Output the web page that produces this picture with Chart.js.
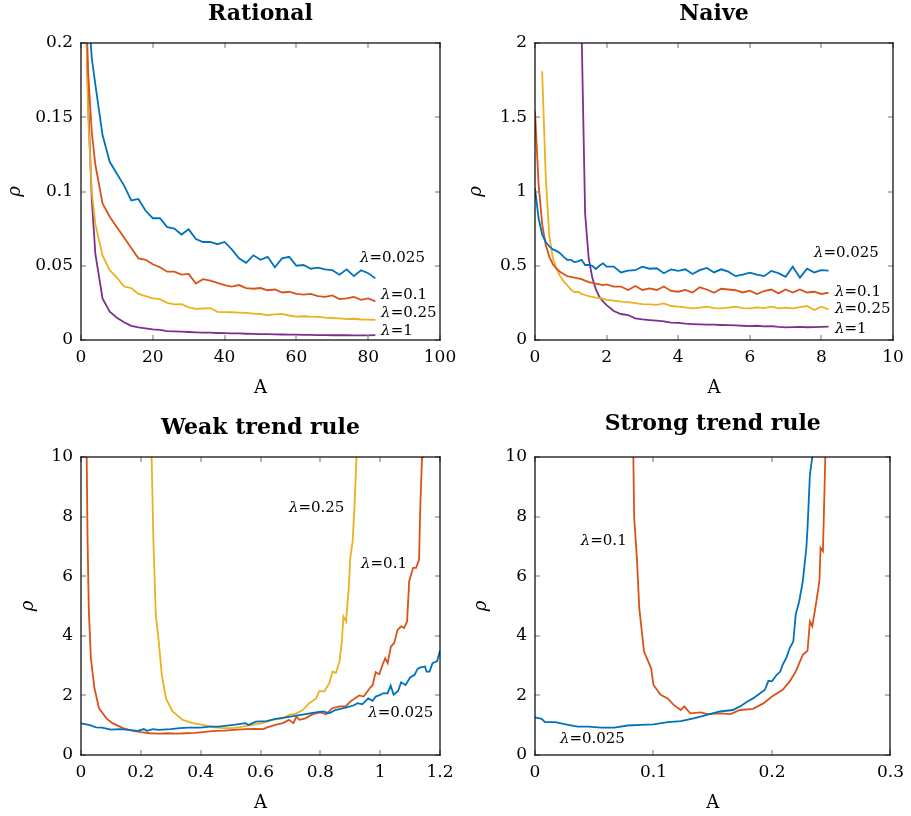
<!DOCTYPE html>
<html>
<head>
<meta charset="utf-8">
<script src="https://cdn.jsdelivr.net/npm/chart.js"></script>
<style>
  body { margin: 0; background: #fff; }
  #wrap { position: relative; width: 911px; height: 816px; }
  canvas { position: absolute; }
</style>
</head>
<body>
<div id="wrap">
  <canvas id="c1" width="470" height="400" style="left:0;top:0"></canvas>
  <canvas id="c2" width="456" height="400" style="left:455px;top:0"></canvas>
  <canvas id="c3" width="470" height="416" style="left:0;top:400px"></canvas>
  <canvas id="c4" width="456" height="416" style="left:455px;top:400px"></canvas>
</div>
<script>
// ---- Rational ----
const rationalA = [1, 1.5, 2, 3, 4, 6, 8, 10, 12, 14, 16, 18, 20, 22, 24, 26, 28, 30, 32, 34, 36, 38, 40,
  42, 44, 46, 48, 50, 52, 54, 56, 58, 60, 62, 64, 66, 68, 70, 72, 74, 76, 78, 80, 82];
const rational025 = [0.40, 0.30, 0.225, 0.19, 0.172, 0.138, 0.120, 0.112, 0.104, 0.094, 0.095, 0.087, 0.082,
  0.082, 0.076, 0.075, 0.071, 0.0745, 0.068, 0.066, 0.066, 0.0645, 0.066, 0.061, 0.055, 0.052, 0.057, 0.054,
  0.056, 0.049, 0.055, 0.056, 0.050, 0.0505, 0.048, 0.0487, 0.0476, 0.047, 0.044, 0.0476, 0.043, 0.047, 0.045, 0.0415];
const rational01 = [0.30, 0.22, 0.18, 0.14, 0.118, 0.092, 0.083, 0.076, 0.069, 0.062, 0.055, 0.054, 0.051,
  0.049, 0.046, 0.046, 0.044, 0.0445, 0.038, 0.041, 0.040, 0.0385, 0.037, 0.036, 0.037, 0.035, 0.0345, 0.035,
  0.0335, 0.034, 0.032, 0.0325, 0.031, 0.0305, 0.031, 0.0295, 0.029, 0.030, 0.0275, 0.028, 0.029, 0.027, 0.028, 0.026];
const rational025b = [0.26, 0.21, 0.15, 0.10, 0.078, 0.057, 0.047, 0.042, 0.036, 0.035, 0.031, 0.0295, 0.028,
  0.0275, 0.025, 0.024, 0.0242, 0.022, 0.021, 0.0212, 0.0215, 0.019, 0.0188, 0.0187, 0.0185, 0.0182, 0.0178,
  0.0175, 0.0168, 0.0172, 0.0176, 0.0165, 0.0158, 0.016, 0.0157, 0.0156, 0.015, 0.0148, 0.0145, 0.014, 0.0143,
  0.0138, 0.0137, 0.0135];
const rational1 = [0.5, 0.21, 0.16, 0.095, 0.058, 0.028, 0.019, 0.015, 0.012, 0.0095, 0.0085, 0.0078, 0.0072,
  0.0068, 0.006, 0.0058, 0.0056, 0.0054, 0.0052, 0.005, 0.0049, 0.0047, 0.0046, 0.0045, 0.0044, 0.0042, 0.0041,
  0.004, 0.0039, 0.0038, 0.0037, 0.0036, 0.0036, 0.0035, 0.0034, 0.0033, 0.0033, 0.0032, 0.0033, 0.0032, 0.0031,
  0.0031, 0.0031, 0.0033];

// ---- Naive ----
const naiveA = [0, 0.1, 0.2, 0.3, 0.4, 0.5, 0.6, 0.7, 0.8, 0.9, 1.0, 1.1, 1.2, 1.3, 1.4, 1.5, 1.6, 1.7, 1.8, 1.9,
  2.0, 2.2, 2.4, 2.6, 2.8, 3.0, 3.2, 3.4, 3.6, 3.8, 4.0, 4.2, 4.4, 4.6, 4.8, 5.0, 5.2, 5.4, 5.6, 5.8, 6.0,
  6.2, 6.4, 6.6, 6.8, 7.0, 7.2, 7.4, 7.6, 7.8, 8.0, 8.2];
const naive025 = [1.02, 0.82, 0.71, 0.66, 0.63, 0.61, 0.60, 0.585, 0.56, 0.54, 0.54, 0.525, 0.53, 0.54, 0.505,
  0.505, 0.50, 0.478, 0.50, 0.516, 0.494, 0.494, 0.455, 0.467, 0.47, 0.494, 0.48, 0.483, 0.45, 0.475, 0.465,
  0.476, 0.444, 0.47, 0.485, 0.455, 0.476, 0.46, 0.43, 0.44, 0.453, 0.44, 0.43, 0.465, 0.45, 0.425, 0.494,
  0.42, 0.48, 0.455, 0.47, 0.467];
const naive01 = [1.54, 1.05, 0.78, 0.64, 0.56, 0.51, 0.48, 0.46, 0.445, 0.43, 0.425, 0.42, 0.415, 0.41, 0.40,
  0.39, 0.385, 0.38, 0.375, 0.37, 0.375, 0.36, 0.36, 0.337, 0.364, 0.337, 0.348, 0.337, 0.36, 0.33, 0.325,
  0.337, 0.32, 0.355, 0.34, 0.318, 0.345, 0.34, 0.335, 0.32, 0.332, 0.31, 0.33, 0.34, 0.314, 0.34, 0.32,
  0.34, 0.32, 0.325, 0.31, 0.319];
const naive025b = [null, null, 1.81, 1.1, 0.70, 0.55, 0.48, 0.43, 0.395, 0.37, 0.34, 0.322, 0.325, 0.31, 0.303,
  0.295, 0.29, 0.285, 0.282, 0.278, 0.27, 0.265, 0.258, 0.255, 0.248, 0.242, 0.24, 0.236, 0.247, 0.229, 0.225,
  0.22, 0.213, 0.218, 0.224, 0.215, 0.213, 0.218, 0.224, 0.215, 0.213, 0.22, 0.215, 0.224, 0.213, 0.218,
  0.213, 0.222, 0.229, 0.202, 0.224, 0.206];
const naive1 = [null, null, null, null, null, null, null, null, null, null, null, null, null, 2.1, 0.85, 0.55,
  0.42, 0.34, 0.29, 0.26, 0.235, 0.195, 0.175, 0.168, 0.146, 0.139, 0.134, 0.13, 0.125, 0.117, 0.115, 0.11,
  0.107, 0.105, 0.104, 0.103, 0.101, 0.1, 0.098, 0.096, 0.094, 0.096, 0.092, 0.093, 0.088, 0.085, 0.087,
  0.088, 0.086, 0.087, 0.089, 0.09];

// ---- Weak trend rule ----
const weakA025 = [0, 0.03, 0.05, 0.07, 0.1, 0.13, 0.16, 0.19, 0.21, 0.22, 0.24, 0.26, 0.3, 0.33, 0.36, 0.4,
  0.43, 0.46, 0.51, 0.55, 0.56, 0.585, 0.62, 0.65, 0.685, 0.72, 0.75, 0.785, 0.81, 0.83, 0.85, 0.885, 0.91,
  0.925, 0.94, 0.96, 0.975, 0.985, 1.0, 1.01, 1.025, 1.035, 1.045, 1.06, 1.07, 1.085, 1.1, 1.115, 1.125,
  1.135, 1.15, 1.155, 1.165, 1.175, 1.19, 1.2];
const weak025 = [1.06, 1.0, 0.93, 0.92, 0.85, 0.87, 0.84, 0.81, 0.87, 0.81, 0.87, 0.84, 0.87, 0.9, 0.92, 0.92,
  0.95, 0.95, 1.01, 1.07, 1.01, 1.12, 1.14, 1.21, 1.26, 1.32, 1.37, 1.43, 1.46, 1.4, 1.51, 1.59, 1.66, 1.74,
  1.7, 1.9, 1.82, 1.96, 2.02, 2.07, 2.07, 2.33, 2.02, 2.15, 2.44, 2.35, 2.6, 2.69, 2.89, 2.94, 2.97, 2.8, 2.8,
  3.08, 3.14, 3.5];
const weakA01 = [0.017, 0.019, 0.022, 0.026, 0.033, 0.045, 0.06, 0.085, 0.105, 0.14, 0.17, 0.2, 0.23, 0.26,
  0.29, 0.32, 0.35, 0.38, 0.4, 0.43, 0.45, 0.48, 0.51, 0.55, 0.58, 0.61, 0.62, 0.65, 0.675, 0.695, 0.71, 0.72,
  0.73, 0.75, 0.775, 0.8, 0.82, 0.84, 0.865, 0.885, 0.9, 0.915, 0.93, 0.945, 0.965, 0.975, 0.985, 0.997, 1.008,
  1.017, 1.025, 1.036, 1.047, 1.058, 1.07, 1.08, 1.09, 1.097, 1.11, 1.12, 1.13, 1.134, 1.14, 1.143];
const weak01 = [12, 10, 7.2, 4.9, 3.25, 2.24, 1.57, 1.23, 1.07, 0.9, 0.82, 0.77, 0.73, 0.72, 0.73, 0.72, 0.73,
  0.74, 0.76, 0.79, 0.81, 0.82, 0.84, 0.87, 0.88, 0.87, 0.92, 1.01, 1.07, 1.18, 1.07, 1.29, 1.18, 1.23, 1.37,
  1.43, 1.37, 1.57, 1.63, 1.63, 1.79, 1.9, 2.0, 1.96, 2.24, 2.35, 2.78, 2.71, 3.03, 3.25, 3.08, 3.64, 3.76, 4.2,
  4.32, 4.26, 4.48, 5.83, 6.28, 6.28, 6.56, 8.3, 10, 12];
const weakA25 = [0.234, 0.236, 0.242, 0.25, 0.26, 0.27, 0.284, 0.306, 0.34, 0.373, 0.407, 0.44, 0.474, 0.507,
  0.54, 0.574, 0.607, 0.64, 0.674, 0.696, 0.72, 0.741, 0.763, 0.786, 0.797, 0.813, 0.83, 0.841, 0.852, 0.864,
  0.872, 0.877, 0.886, 0.895, 0.9, 0.908, 0.914, 0.921, 0.924];
const weak25 = [12, 10, 7.2, 4.7, 3.8, 2.69, 1.9, 1.46, 1.18, 1.07, 1.01, 0.94, 0.9, 0.9, 0.95, 1.01, 1.07, 1.18,
  1.23, 1.35, 1.4, 1.51, 1.74, 1.9, 2.15, 2.13, 2.41, 2.8, 2.75, 3.14, 3.81, 4.65, 4.48, 5.6, 6.61, 7.17, 8.3,
  10, 12];

// ---- Strong trend rule ----
const strongA025 = [0, 0.0056, 0.0084, 0.017, 0.028, 0.036, 0.045, 0.056, 0.067, 0.078, 0.089, 0.1, 0.112,
  0.123, 0.134, 0.145, 0.156, 0.167, 0.173, 0.179, 0.184, 0.19, 0.194, 0.197, 0.2, 0.204, 0.207, 0.209, 0.212,
  0.215, 0.218, 0.22, 0.223, 0.226, 0.229, 0.23, 0.232, 0.234, 0.235];
const strong025 = [1.26, 1.21, 1.1, 1.1, 1.01, 0.95, 0.95, 0.92, 0.92, 0.99, 1.01, 1.03, 1.1, 1.14, 1.23, 1.35,
  1.46, 1.51, 1.63, 1.79, 1.9, 2.07, 2.19, 2.49, 2.47, 2.69, 2.8, 3.03, 3.25, 3.59, 3.81, 4.71, 5.16, 5.83,
  6.95, 7.62, 9.4, 10, 11];
const strongA01 = [0.0825, 0.083, 0.0837, 0.086, 0.088, 0.092, 0.098, 0.1, 0.106, 0.112, 0.117, 0.123, 0.126,
  0.131, 0.14, 0.145, 0.156, 0.165, 0.173, 0.184, 0.193, 0.2, 0.209, 0.215, 0.22, 0.226, 0.23, 0.232, 0.234,
  0.237, 0.24, 0.241, 0.243, 0.245, 0.246];
const strong01 = [12, 10, 7.96, 6.6, 4.93, 3.47, 2.91, 2.35, 2.02, 1.9, 1.68, 1.51, 1.63, 1.4, 1.43, 1.37, 1.4,
  1.37, 1.51, 1.55, 1.74, 1.96, 2.19, 2.47, 2.8, 3.36, 3.5, 4.48, 4.32, 5.04, 5.83, 6.95, 6.84, 10, 12];

const BLUE = '#0072BD', RED = '#D95319', YELLOW = '#EDB120', PURPLE = '#7E2F8E';
const serif = '"DejaVu Serif", "Liberation Serif", serif';

function pts(xs, ys) {
  return xs.map((x, i) => ({ x: x, y: ys[i] }));
}

function line(data, color) {
  return { data: data, borderColor: color, borderWidth: 1.8, pointRadius: 0, fill: false, tension: 0, clip: 0 };
}

function fmt(v) {
  return String(Math.round(v * 1000) / 1000);
}

// frame, inward ticks, title and curve labels
function decoPlugin(p) {
  return {
    id: 'deco',
    afterDraw(chart) {
      const ctx = chart.ctx;
      const a = chart.chartArea;
      const x = chart.scales.x, y = chart.scales.y;
      const L = Math.round(a.left), R = Math.round(a.right);
      const T = Math.round(a.top), B = Math.round(a.bottom);
      ctx.save();
      // tick marks pointing inward on all four sides
      ctx.fillStyle = '#8c8c8c';
      x.ticks.forEach(t => {
        const px = Math.round(x.getPixelForValue(t.value));
        ctx.fillRect(px - 0.6, B - 5, 1.2, 5);
        ctx.fillRect(px - 0.6, T, 1.2, 5);
      });
      y.ticks.forEach(t => {
        const py = Math.round(y.getPixelForValue(t.value));
        ctx.fillRect(L, py - 0.6, 5, 1.2);
        ctx.fillRect(R - 5, py - 0.6, 5, 1.2);
      });
      // box
      ctx.fillStyle = '#000';
      ctx.fillRect(L - 0.6, T - 0.6, R - L + 1.2, 1.2);
      ctx.fillRect(L - 0.6, B - 0.6, R - L + 1.2, 1.2);
      ctx.fillRect(L - 0.6, T - 0.6, 1.2, B - T + 1.2);
      ctx.fillRect(R - 0.6, T - 0.6, 1.2, B - T + 1.2);

      ctx.textBaseline = 'middle';
      ctx.textAlign = 'center';
      ctx.font = 'bold 22px ' + serif;
      ctx.fillText(p.title, (a.left + a.right) / 2, p.titleY);

      ctx.textAlign = 'left';
      p.labels.forEach(l => {
        let px = x.getPixelForValue(l.x);
        const py = y.getPixelForValue(l.y);
        ctx.font = 'italic 15px ' + serif;
        ctx.fillText('λ', px, py);
        px += ctx.measureText('λ').width;
        ctx.font = '15px ' + serif;
        ctx.fillText('=' + l.text, px, py);
      });
      ctx.restore();
    }
  };
}

function makeChart(id, p) {
  const canvas = document.getElementById(id);
  const W = canvas.width, H = canvas.height;
  return new Chart(canvas, {
    type: 'line',
    data: { datasets: p.datasets },
    options: {
      responsive: false,
      animation: false,
      events: [],
      layout: { padding: { left: 0, right: W - p.right, top: p.top, bottom: 0 } },
      plugins: { legend: { display: false }, tooltip: { enabled: false }, title: { display: false } },
      scales: {
        x: {
          type: 'linear', min: p.xMin, max: p.xMax,
          grid: { display: false, drawTicks: false },
          border: { display: false },
          ticks: { stepSize: p.xStep, autoSkip: false, maxRotation: 0, padding: 7, color: '#000',
            font: { family: serif, size: 17 }, callback: fmt },
          title: { display: true, text: 'A', color: '#000', font: { family: serif, size: 18 },
            padding: { top: 0, bottom: p.xTitlePad } },
          afterFit: s => { s.height = H - p.bottom; }
        },
        y: {
          type: 'linear', min: p.yMin, max: p.yMax,
          grid: { display: false, drawTicks: false },
          border: { display: false },
          ticks: { stepSize: p.yStep, padding: 8, color: '#000',
            font: { family: serif, size: 17 }, callback: fmt },
          title: { display: true, text: 'ρ', color: '#000', font: { family: serif, size: 18, style: 'italic' },
            padding: { top: p.yTitlePad, bottom: 0 } },
          afterFit: s => { s.width = p.left; }
        }
      }
    },
    plugins: [decoPlugin(p)]
  });
}

makeChart('c1', {
  title: 'Rational', titleY: 14, left: 81, right: 440, top: 43, bottom: 340,
  xMin: 0, xMax: 100, xStep: 20, yMin: 0, yMax: 0.2, yStep: 0.05, xTitlePad: 1.2, yTitlePad: 4.2,
  datasets: [
    line(pts(rationalA, rational025), BLUE),
    line(pts(rationalA, rational01), RED),
    line(pts(rationalA, rational025b), YELLOW),
    line(pts(rationalA, rational1), PURPLE)
  ],
  labels: [
    { text: '0.025', x: 77.7, y: 0.055 },
    { text: '0.1', x: 83.6, y: 0.030 },
    { text: '0.25', x: 83.6, y: 0.018 },
    { text: '1', x: 83.6, y: 0.006 }
  ]
});

makeChart('c2', {
  title: 'Naive', titleY: 14, left: 80, right: 438, top: 43, bottom: 340,
  xMin: 0, xMax: 10, xStep: 2, yMin: 0, yMax: 2, yStep: 0.5, xTitlePad: 1.2, yTitlePad: 10.9,
  datasets: [
    line(pts(naiveA, naive025), BLUE),
    line(pts(naiveA, naive01), RED),
    line(pts(naiveA, naive025b), YELLOW),
    line(pts(naiveA, naive1), PURPLE)
  ],
  labels: [
    { text: '0.025', x: 7.79, y: 0.586 },
    { text: '0.1', x: 8.38, y: 0.323 },
    { text: '0.25', x: 8.38, y: 0.209 },
    { text: '1', x: 8.38, y: 0.074 }
  ]
});

makeChart('c3', {
  title: 'Weak trend rule', titleY: 28, left: 81, right: 440, top: 57, bottom: 355,
  xMin: 0, xMax: 1.2, xStep: 0.2, yMin: 0, yMax: 10, yStep: 2, xTitlePad: 2.2, yTitlePad: 17.5,
  datasets: [
    line(pts(weakA025, weak025), BLUE),
    line(pts(weakA01, weak01), RED),
    line(pts(weakA25, weak25), YELLOW)
  ],
  labels: [
    { text: '0.25', x: 0.695, y: 8.29 },
    { text: '0.1', x: 0.936, y: 6.41 },
    { text: '0.025', x: 0.96, y: 1.41 }
  ]
});

makeChart('c4', {
  title: 'Strong trend rule', titleY: 24, left: 80, right: 438, top: 57, bottom: 355,
  xMin: 0, xMax: 0.3, xStep: 0.1, yMin: 0, yMax: 10, yStep: 2, xTitlePad: 2.2, yTitlePad: 16,
  datasets: [
    line(pts(strongA025, strong025), BLUE),
    line(pts(strongA01, strong01), RED)
  ],
  labels: [
    { text: '0.1', x: 0.0386, y: 7.18 },
    { text: '0.025', x: 0.021, y: 0.54 }
  ]
});
</script>
</body>
</html>
